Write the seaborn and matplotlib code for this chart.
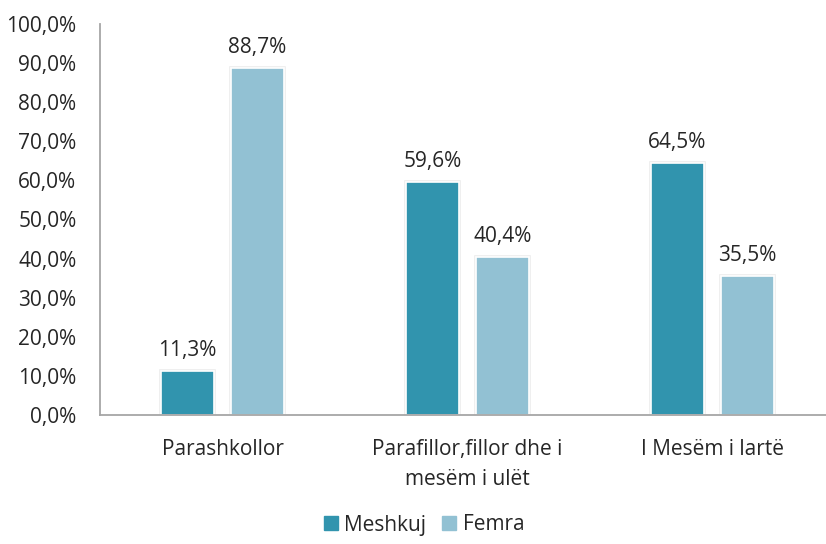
import matplotlib
matplotlib.use("Agg")
import matplotlib.pyplot as plt
import matplotlib.patheffects as pe
from matplotlib.lines import Line2D
import seaborn as sns
import pandas as pd

categories = ["Parashkollor", "Parafillor,fillor dhe i\nmesëm i ulët", "I Mesëm i lartë"]
series = ["Meshkuj", "Femra"]
meshkuj = [11.3, 59.6, 64.5]
femra = [88.7, 40.4, 35.5]
yticks = [0, 10, 20, 30, 40, 50, 60, 70, 80, 90, 100]

colors = ["#3194AE", "#92C1D3"]

df = pd.DataFrame({
    "cat": categories * 2,
    "sex": [series[0]] * 3 + [series[1]] * 3,
    "val": meshkuj + femra,
})

sns.set_theme(style="white")
plt.rcParams["font.family"] = ["Open Sans", "DejaVu Sans"]
txt = "#262626"
fs = 15

fig = plt.figure(figsize=(8.26, 5.44), dpi=100)
W, H = 826, 544
ax = fig.add_axes([100 / W, 1 - 415 / H, 1 - 100 / W + 0.0, (415 - 24) / H])

sns.barplot(data=df, x="cat", y="val", hue="sex", order=categories,
            hue_order=series, palette=colors, width=0.571, gap=0.242,
            ax=ax, legend=False, saturation=1)

for p in ax.patches:
    p.set_edgecolor("white")
    p.set_linewidth(1.2)
    p.set_path_effects([pe.Stroke(linewidth=2.6, foreground="#ececec"), pe.Normal()])

for cont in ax.containers:
    ax.bar_label(cont, labels=[f"{v:.1f}%".replace(".", ",") for v in cont.datavalues],
                 padding=7, fontsize=fs, color=txt)

ax.set_ylim(0, 100)
ax.set_xlim(-0.5, 2.5 - 9 / 245)
ax.set_yticks(yticks)
ax.set_yticklabels([f"{v:.1f}%".replace(".", ",") for v in yticks])
ax.set_xlabel("")
ax.set_ylabel("")
ax.tick_params(axis="y", length=0, pad=17, labelsize=fs, labelcolor=txt)
ax.tick_params(axis="x", length=0, pad=17, labelsize=fs, labelcolor=txt)
for lab in ax.get_xticklabels():
    lab.set_linespacing(1.6)

for s in ["top", "right"]:
    ax.spines[s].set_visible(False)
for s in ["left", "bottom"]:
    ax.spines[s].set_color("#a6a6a6")
    ax.spines[s].set_linewidth(1.3)

handles = [Line2D([], [], marker="s", linestyle="", markersize=10,
                  markerfacecolor=c, markeredgecolor=c) for c in colors]
fig.legend(handles, series, loc="center", bbox_to_anchor=(424 / W, 1 - 525 / H),
           ncol=2, frameon=False, fontsize=fs, handlelength=0.7, handletextpad=0.3,
           columnspacing=0.75, labelcolor=txt)

fig.savefig("out.png", dpi=100)
